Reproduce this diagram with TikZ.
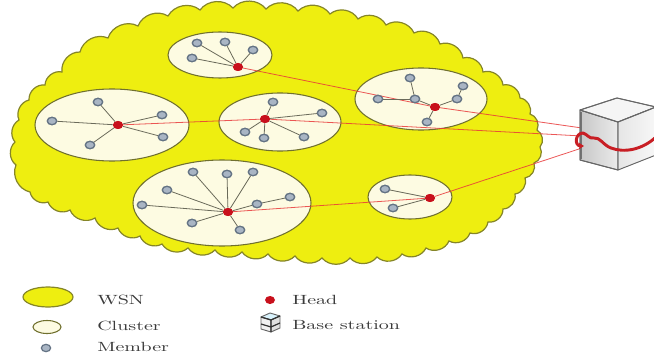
\documentclass[tikz,border=0pt]{standalone}
\usetikzlibrary{shapes.geometric,arrows.meta}
\definecolor{wsnyellow}{HTML}{EEEE10}
\definecolor{wsnedge}{HTML}{858528}
\definecolor{clusterfill}{HTML}{FDFBE2}
\definecolor{clusteredge}{HTML}{70702E}
\definecolor{memberfill}{HTML}{A9B5C4}
\definecolor{memberedge}{HTML}{647384}
\definecolor{headred}{HTML}{C8101C}
\definecolor{spokegray}{HTML}{6A6A5A}
\definecolor{linkred}{HTML}{E83A3A}
\definecolor{legendgray}{HTML}{3A3A3A}
\definecolor{swirlred}{HTML}{C81E24}
\tikzset{
  wsn/.style={fill=wsnyellow, draw=wsnedge, line width=0.9pt},
  cluster/.style={ellipse, draw=clusteredge, fill=clusterfill, line width=0.8pt, inner sep=0pt},
  member/.style={ellipse, draw=memberedge, fill=memberfill, line width=0.9pt,
                 minimum width=7pt, minimum height=5.5pt, inner sep=0pt},
  head/.style={ellipse, fill=headred, minimum width=7.5pt, minimum height=6pt, inner sep=0pt},
  spoke/.style={draw=spokegray, line width=0.6pt},
  link/.style={draw=linkred, line width=0.6pt, opacity=0.85},
  cubeedge/.style={draw=black!60, line width=0.7pt, line join=round},
  swirl/.style={draw=swirlred, line width=2.2pt, line cap=round},
  legendtext/.style={anchor=base west, text=legendgray, inner sep=0pt,
                     font=\fontsize{10}{12}\selectfont},
}
\newcommand{\wide}[1]{\scalebox{1.5}[1]{#1}}
\begin{document}
\begin{tikzpicture}[x=0.75pt,y=-0.75pt]
\useasboundingbox (0,0) rectangle (654,353);

% the sensor field
\draw[wsn] (16,165)
  \foreach \x/\y in {15/142,19/120,29/100,45/85,62/72,80/52,108/38,
    138/26,168/16,200/10,233/8,266/9,298/11,330/14,358/19,
    386/25,414/33,440/44,463/58,483/72,503/85,520/98,530/114,
    537/130,540/147,534/163,525/178,515/194,503/209,488/222,
    470/233,449/241,426/248,402/254,377/257,350/258,322/258,
    295/256,268/254,242/252,215/250,188/248,162/244,140/236,
    118/228,95/218,70/210,48/202,30/192,16/165}
  { to[bend left=50] (\x,\y) } -- cycle;

% clusters
\node[cluster, minimum width=78pt,   minimum height=34.5pt] (c1) at (220,55)  {};
\node[cluster, minimum width=115.5pt,minimum height=54pt]   (c2) at (112,125) {};
\node[cluster, minimum width=91.5pt, minimum height=43.5pt] (c3) at (280,122) {};
\node[cluster, minimum width=133.5pt,minimum height=64.5pt] (c4) at (222,203) {};
\node[cluster, minimum width=99pt,   minimum height=46.5pt] (c5) at (421,99)  {};
\node[cluster, minimum width=63pt,   minimum height=33pt]   (c6) at (410,197) {};

% cluster heads
\coordinate (p1) at (238,67);
\coordinate (p2) at (118,125);
\coordinate (p3) at (265,119);
\coordinate (p4) at (228,212);
\coordinate (p5) at (435,107);
\coordinate (p6) at (430,198);

% base station anchor points
\coordinate (bsa) at (582,128);
\coordinate (bsb) at (582,136);
\coordinate (bsc) at (582,148);

% members
\node[member] (m11) at (197,43) {};
\node[member] (m12) at (225,42) {};
\node[member] (m13) at (253,50) {};
\node[member] (m14) at (192,58) {};

\node[member] (m21) at (98,102) {};
\node[member] (m22) at (162,115) {};
\node[member] (m23) at (163,137) {};
\node[member] (m24) at (90,145) {};
\node[member] (m25) at (52,121) {};

\node[member] (m31) at (273,102) {};
\node[member] (m32) at (322,113) {};
\node[member] (m33) at (304,137) {};
\node[member] (m34) at (264,138) {};
\node[member] (m35) at (245,132) {};

\node[member] (m41) at (193,172) {};
\node[member] (m42) at (227,174) {};
\node[member] (m43) at (253,172) {};
\node[member] (m44) at (167,190) {};
\node[member] (m45) at (142,205) {};
\node[member] (m46) at (192,223) {};
\node[member] (m47) at (240,230) {};
\node[member] (m48) at (257,204) {};
\node[member] (m49) at (290,197) {};

\node[member] (m51) at (410,78) {};
\node[member] (m52) at (463,86) {};
\node[member] (m53) at (457,99) {};
\node[member] (m54) at (415,99) {};
\node[member] (m55) at (378,99) {};
\node[member] (m56) at (427,122) {};

\node[member] (m61) at (385,189) {};
\node[member] (m62) at (393,208) {};

\node[head] (h1) at (p1) {};
\node[head] (h2) at (p2) {};
\node[head] (h3) at (p3) {};
\node[head] (h4) at (p4) {};
\node[head] (h5) at (p5) {};
\node[head] (h6) at (p6) {};

% head-to-head and head-to-station links
\draw[link] (h1) -- (h5);
\draw[link] (h5) -- (bsa);
\draw[link] (h2) -- (h3);
\draw[link] (h3) -- (bsb);
\draw[link] (h4) -- (h6);
\draw[link] (h6) -- (bsc);

% member spokes
\foreach \m in {m11,m12,m13,m14} \draw[spoke] (h1) -- (\m);
\foreach \m in {m21,m22,m23,m24,m25} \draw[spoke] (h2) -- (\m);
\foreach \m in {m31,m32,m33,m34,m35} \draw[spoke] (h3) -- (\m);
\foreach \m in {m41,m42,m43,m44,m45,m46,m47,m48} \draw[spoke] (h4) -- (\m);
\draw[spoke] (m48) -- (m49);
\draw[spoke] (h5) -- (m54);
\draw[spoke] (m54) -- (m51);
\draw[spoke] (m54) -- (m55);
\draw[spoke] (h5) -- (m53);
\draw[spoke] (m53) -- (m52);
\draw[spoke] (h5) -- (m56);
\foreach \m in {m61,m62} \draw[spoke] (h6) -- (\m);

% redraw nodes on top of the lines
\foreach \m in {m11,m12,m13,m14,m21,m22,m23,m24,m25,m31,m32,m33,m34,m35,
                m41,m42,m43,m44,m45,m46,m47,m48,m49,m51,m52,m53,m54,m55,m56,m61,m62}
  \node[member] at (\m) {};
\foreach \h in {p1,p2,p3,p4,p5,p6} \node[head] at (\h) {};

% base station cube
\fill[cubeedge, left color=black!22, right color=black!8]
  (580,110) -- (618,122) -- (618,170) -- (580,160) -- cycle;
\draw[cubeedge, line width=1.4pt, black!55] (581,112) -- (581,159);
\fill[cubeedge, fill=black!4] (580,110) -- (617,98) -- (656,107) -- (618,122) -- cycle;
\fill[cubeedge, left color=black!10, right color=black!3]
  (618,122) -- (656,107) -- (656,155) -- (618,170) -- cycle;
\draw[cubeedge] (580,110) -- (618,122) -- (618,170) -- (580,160) -- cycle;
\draw[cubeedge] (580,110) -- (617,98) -- (656,107) -- (618,122);

% signal swirl around the station
\draw[swirl] (656,137) .. controls (642,150) and (624,153) .. (611,148)
  .. controls (603,145) and (600,137) .. (594,138)
  .. controls (589,139) and (587,134) .. (583,133);
\draw[swirl, -{Stealth[length=4pt,width=5pt]}] (583,133)
  .. controls (575,133) and (574,146) .. (584,146);

% legend
\draw[wsn] (48,297) ellipse [x radius=25, y radius=10];
\draw[draw=clusteredge, fill=clusterfill, line width=0.8pt] (47,327) ellipse [x radius=14, y radius=6.5];
\node[member] (lm) at (46,348) {};
\node[legendtext] (lt1) at (97,304) {\wide{WSN}};
\node[legendtext] (lt2) at (97,330) {\wide{Cluster}};
\node[legendtext] (lt3) at (97,351) {\wide{Member}};

\node[head] (lh) at (270,300) {};
\node[legendtext] (lt4) at (292,304) {\wide{Head}};

\fill[cubeedge, fill=cyan!15] (261,317) -- (270,313) -- (280,316) -- (271,320) -- cycle;
\fill[cubeedge, fill=black!6] (261,317) -- (271,320) -- (271,332) -- (261,329) -- cycle;
\fill[cubeedge, fill=black!12] (271,320) -- (280,316) -- (280,328) -- (271,332) -- cycle;
\draw[cubeedge, black!80, line width=0.9pt] (261,317) -- (271,320) -- (280,316)
  (271,320) -- (271,332) (261,324) -- (271,327) -- (280,323);
\node[legendtext] (lt5) at (292,329) {\wide{Base station}};
\end{tikzpicture}
\end{document}
